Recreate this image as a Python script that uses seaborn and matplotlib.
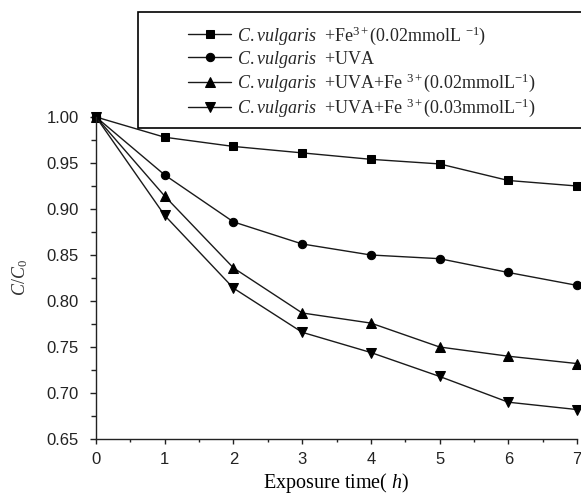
import matplotlib
matplotlib.use("Agg")
import matplotlib.pyplot as plt
import seaborn as sns
import pandas as pd
from matplotlib.ticker import MultipleLocator
from matplotlib.patches import Rectangle

sns.set_theme(style="ticks")
plt.rcParams['font.family'] = ['Liberation Sans', 'DejaVu Sans']
plt.rcParams['mathtext.fontset'] = 'custom'
plt.rcParams['mathtext.rm'] = 'Liberation Serif'
plt.rcParams['mathtext.it'] = 'Liberation Serif:italic'
plt.rcParams['mathtext.bf'] = 'Liberation Serif:bold'

time_h = [0, 1, 2, 3, 4, 5, 6, 7]
fe_002 = [1.00, 0.978, 0.968, 0.961, 0.954, 0.949, 0.931, 0.925]
uva = [1.00, 0.937, 0.886, 0.862, 0.850, 0.846, 0.831, 0.817]
uva_fe_002 = [1.00, 0.914, 0.836, 0.787, 0.776, 0.750, 0.740, 0.732]
uva_fe_003 = [1.00, 0.893, 0.814, 0.766, 0.744, 0.718, 0.690, 0.682]

labels = [
    r'$\it{C.vulgaris}$  +Fe$^{3+}$(0.02mmolL $^{-1}$)',
    r'$\it{C.vulgaris}$  +UVA',
    r'$\it{C.vulgaris}$  +UVA+Fe $^{3+}$(0.02mmolL$^{-1}$)',
    r'$\it{C.vulgaris}$  +UVA+Fe $^{3+}$(0.03mmolL$^{-1}$)',
]
series = [fe_002, uva, uva_fe_002, uva_fe_003]
markers = ['s', 'o', '^', 'v']
msizes = [5.5, 6, 6.5, 6.5]

fig = plt.figure(figsize=(5.81, 4.99), dpi=100)
W, H = 581, 499
ax = fig.add_axes([96 / W, (H - 439) / H, (577 - 96) / W, (439 - 117) / H])

for vals, lab, mk, ms in zip(series, labels, markers, msizes):
    df = pd.DataFrame({'t': time_h, 'v': vals})
    sns.lineplot(data=df, x='t', y='v', ax=ax, color='#1a1a1a', linewidth=1.0,
                 marker=mk, markersize=ms, markeredgecolor='black',
                 markerfacecolor='black', label=lab, clip_on=False)

ax.set_xlim(0, 7)
ax.set_ylim(0.65, 1.00)
ax.xaxis.set_major_locator(MultipleLocator(1))
ax.xaxis.set_minor_locator(MultipleLocator(0.5))
ax.yaxis.set_major_locator(MultipleLocator(0.05))
ax.yaxis.set_minor_locator(MultipleLocator(0.025))
ax.set_yticklabels([f"{v:.2f}" for v in ax.get_yticks()])
ax.tick_params(axis='y', which='major', direction='out', length=4.5, width=1,
               labelsize=12, colors='#222222', pad=8)
ax.tick_params(axis='x', which='major', direction='out', length=3.5, width=1,
               labelsize=12, colors='#222222', pad=6)
ax.tick_params(axis='y', which='minor', direction='out', length=3.5, width=1,
               colors='#222222')
ax.tick_params(axis='x', which='minor', direction='out', length=2, width=1,
               colors='#222222')
for s in ['top', 'right']:
    ax.spines[s].set_visible(False)
for s in ['left', 'bottom']:
    ax.spines[s].set_color('#222222')
    ax.spines[s].set_linewidth(1)

ax.set_xlabel(r'Exposure time( $\it{h}$)', fontfamily='Liberation Serif',
              fontsize=14.5, color='black', labelpad=3)
ax.set_ylabel(r'$\it{C/C}_{\it{0}}$', fontsize=13, color='#333333', labelpad=12)

# legend frame drawn as rectangle in figure coordinates, beneath the legend
ax.add_patch(Rectangle((138 / W, 1 - 128 / H), (600 - 138) / W, (128 - 12) / H,
                       transform=fig.transFigure, facecolor='white',
                       edgecolor='black', linewidth=1.2, zorder=4, clip_on=False))

leg = ax.legend(loc='upper left',
                bbox_to_anchor=(188 / W, 1 - 24 / H),
                bbox_transform=fig.transFigure,
                prop={'family': 'Liberation Serif', 'size': 13},
                frameon=False, handlelength=2.4, handletextpad=0.3,
                borderpad=0, labelspacing=0.12, borderaxespad=0)
leg.set_zorder(6)
fig.savefig('out.png', dpi=100)
